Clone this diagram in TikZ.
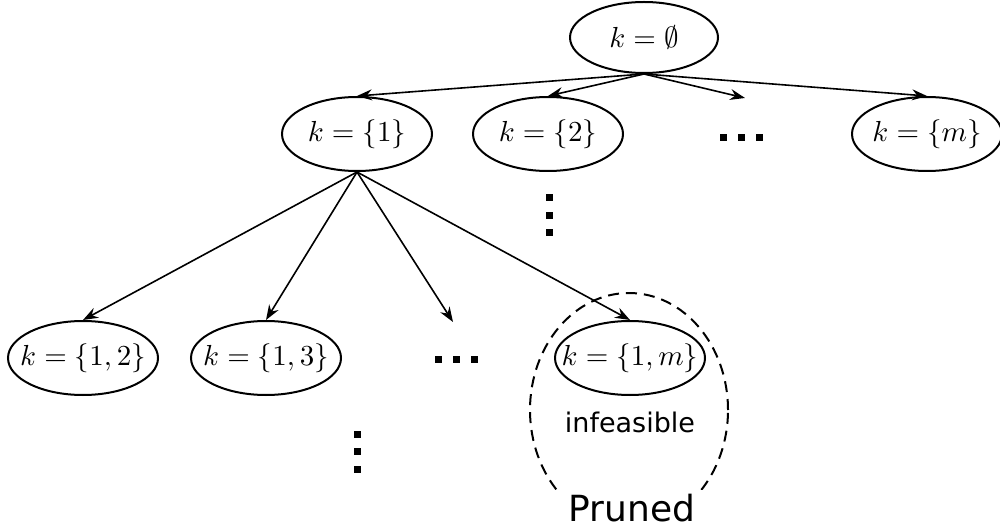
\documentclass[tikz,border=0pt]{standalone}
\usepackage{graphicx}
\usepackage{fontspec}
\newfontfamily\labelfont{DejaVu Sans}
\usetikzlibrary{shapes.geometric,arrows.meta}
\tikzset{
  setnode/.style={ellipse,draw,line width=2pt,minimum width=150pt,minimum height=74pt,
    inner sep=0pt},
  edge/.style={line width=1.6pt,-{Stealth[length=15pt,width=11pt,inset=5pt]}},
  dot/.style={fill,rectangle,minimum size=7pt,inner sep=0pt},
  region/.style={ellipse,draw,line width=2pt,dash pattern=on 11pt off 7pt},
}
% zero-width box keeps the ellipse size fixed by its minimum size
\newcommand\settext[1]{\makebox[0pt]{\scalebox{2.9}{$#1$}}}
\begin{document}
\begin{tikzpicture}[x=1pt,y=-1pt]
\useasboundingbox (0,0) rectangle (1000,529);

% root
\node[setnode,minimum width=148pt,minimum height=71pt] (r) at (644,37.5) {\settext{k=\emptyset}};

% first level
\node[setnode] (a1) at (357,134) {\settext{k=\{1\}}};
\node[setnode] (a2) at (548,134) {\settext{k=\{2\}}};
\node[setnode] (am) at (927,134) {\settext{k=\{m\}}};
\node[dot] (h1a) at (723,138) {};
\node[dot] (h1b) at (741,138) {};
\node[dot] (h1c) at (759,138) {};
\coordinate (f1) at (745,98);

% vertical dots below k={2}
\node[dot] (v1a) at (549,198) {};
\node[dot] (v1b) at (549,216) {};
\node[dot] (v1c) at (549,233) {};

% second level
\node[setnode] (b2) at (83,358) {\settext{k=\{1,2\}}};
\node[setnode] (b3) at (266,358) {\settext{k=\{1,3\}}};
\node[setnode] (bm) at (630,358) {\settext{k=\{1,m\}}};
\node[dot] (h2a) at (438,359) {};
\node[dot] (h2b) at (456,359) {};
\node[dot] (h2c) at (474,359) {};
\coordinate (f2) at (453,322);

% vertical dots below k={1,3}
\node[dot] (v2a) at (357,434) {};
\node[dot] (v2b) at (357,451) {};
\node[dot] (v2c) at (357,469) {};

% edges
\draw[edge] (r.south) -- (a1.north);
\draw[edge] (r.south) -- (a2.north);
\draw[edge] (r.south) -- (f1);
\draw[edge] (r.south) -- (am.north);
\draw[edge] (a1.south) -- (b2.north);
\draw[edge] (a1.south) -- (b3.north);
\draw[edge] (a1.south) -- (f2);
\draw[edge] (a1.south) -- (bm.north);

% pruned region
\node[region,minimum width=198pt,minimum height=234pt] (zone) at (629,410) {};
\node[font=\labelfont\fontsize{27}{31}\selectfont] (inf) at (630,422) {infeasible};
\node[fill=white,inner xsep=9pt,inner ysep=4pt,text depth=8pt,anchor=base,
      font=\labelfont\fontsize{36}{40}\selectfont] (pr) at (632,521) {Pruned};
\end{tikzpicture}
\end{document}
